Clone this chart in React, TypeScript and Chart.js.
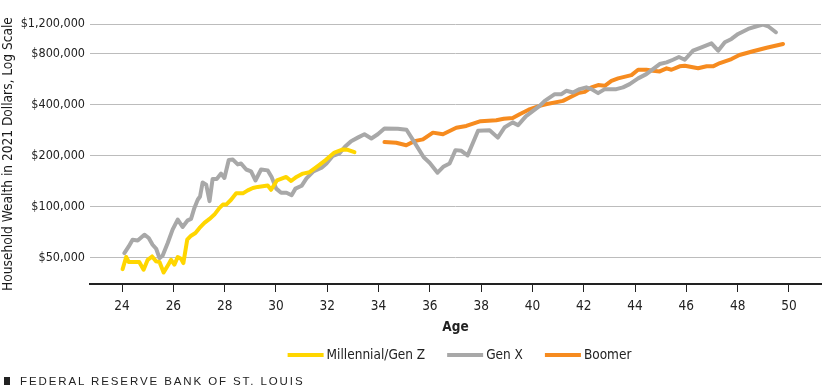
import React, { useEffect, useRef } from 'react';
import { Chart, registerables } from 'chart.js';

Chart.register(...registerables);

const FONT = "'Liberation Sans Narrow', 'Arial Narrow', 'DejaVu Sans Condensed', 'Liberation Sans', Arial, sans-serif";

// Age (years) tick labels and wealth (2021 dollars, log scale) tick labels
const ageTicks = [24, 26, 28, 30, 32, 34, 36, 38, 40, 42, 44, 46, 48, 50];
const wealthTicks = [50000, 100000, 200000, 400000, 800000, 1200000];

const seriesNames = ['Millennial/Gen Z', 'Gen X', 'Boomer'];
const seriesColors = ['#FFD600', '#A8A8A8', '#F68B1F'];

// Millennial/Gen Z
const millennialAges = [24.02, 24.16, 24.26, 24.67, 24.84, 25.0, 25.17, 25.33, 25.46, 25.62, 25.82, 25.91, 26.04, 26.17, 26.3, 26.39, 26.54, 26.69, 26.86, 27.02, 27.21, 27.41, 27.6, 27.8, 27.93, 28.06, 28.25, 28.45, 28.71, 28.9, 29.1, 29.29, 29.68, 29.81, 30.04, 30.4, 30.59, 30.8, 31.05, 31.31, 31.63, 31.96, 32.28, 32.61, 32.8, 33.06];
const millennialWealth = [42800, 50500, 47200, 47200, 42500, 48600, 50900, 47600, 47200, 40900, 46000, 48600, 45500, 50500, 49300, 46500, 63900, 67500, 70000, 75000, 80300, 84800, 89900, 98500, 103000, 103000, 110000, 120000, 120000, 125000, 129000, 131000, 133500, 126000, 143000, 150000, 142000, 150000, 157000, 160000, 174000, 190000, 209000, 218000, 217000, 210000];

// Gen X
const genXAges = [24.09, 24.26, 24.41, 24.61, 24.87, 25.04, 25.19, 25.33, 25.46, 25.58, 25.78, 25.97, 26.17, 26.36, 26.56, 26.69, 26.82, 26.95, 27.04, 27.14, 27.28, 27.41, 27.53, 27.69, 27.86, 27.99, 28.16, 28.32, 28.51, 28.64, 28.84, 29.03, 29.2, 29.42, 29.68, 29.83, 30.01, 30.2, 30.41, 30.61, 30.76, 31.0, 31.19, 31.46, 31.78, 31.97, 32.22, 32.48, 32.69, 32.93, 33.19, 33.45, 33.72, 33.97, 34.23, 34.75, 35.09, 35.4, 35.76, 35.99, 36.3, 36.54, 36.77, 37.0, 37.23, 37.47, 37.88, 38.33, 38.65, 38.92, 39.23, 39.44, 39.74, 40.01, 40.28, 40.48, 40.87, 41.13, 41.32, 41.58, 41.84, 42.1, 42.3, 42.56, 42.82, 43.27, 43.53, 43.79, 44.12, 44.44, 44.7, 44.96, 45.23, 45.48, 45.71, 45.94, 46.26, 46.59, 46.98, 47.24, 47.5, 47.76, 48.02, 48.41, 48.74, 48.99, 49.19, 49.49];
const genXWealth = [53300, 58300, 63900, 63300, 68400, 65400, 59700, 56500, 49800, 51400, 61100, 73300, 84000, 76000, 83200, 84800, 98500, 110000, 115000, 139000, 135000, 108000, 146000, 146000, 157000, 148000, 189000, 190000, 178000, 180000, 166000, 162000, 143000, 166000, 164000, 150000, 128000, 121000, 121000, 117000, 128000, 133000, 147000, 162000, 170000, 180000, 200000, 207000, 226000, 244000, 256000, 268000, 253000, 268000, 290000, 289000, 285000, 240000, 196000, 182000, 159000, 173000, 180000, 216000, 214000, 201000, 281000, 283000, 256000, 295000, 315000, 303000, 342000, 367000, 394000, 422000, 462000, 462000, 484000, 473000, 495000, 507000, 495000, 469000, 495000, 495000, 507000, 530000, 573000, 607000, 650000, 696000, 712000, 738000, 766000, 738000, 835000, 874000, 923000, 835000, 936000, 979000, 1048000, 1122000, 1164000, 1190000, 1164000, 1073000];

// Boomer
const boomerAges = [34.23, 34.69, 35.08, 35.4, 35.73, 36.12, 36.51, 37.03, 37.42, 37.98, 38.59, 38.88, 39.23, 39.5, 39.85, 40.28, 40.52, 41.19, 41.45, 41.78, 42.04, 42.3, 42.56, 42.82, 43.08, 43.34, 43.66, 43.86, 44.12, 44.44, 44.7, 44.96, 45.23, 45.42, 45.74, 45.94, 46.46, 46.79, 47.04, 47.31, 47.76, 48.07, 48.6, 49.13, 49.77];
const boomerWealth = [241000, 239000, 231000, 244000, 250000, 274000, 268000, 293000, 300000, 320000, 324000, 331000, 334000, 352000, 374000, 394000, 403000, 422000, 442000, 469000, 477000, 507000, 523000, 518000, 554000, 573000, 589000, 599000, 644000, 644000, 635000, 630000, 657000, 644000, 675000, 680000, 657000, 675000, 675000, 706000, 745000, 787000, 828000, 869000, 915000];

const toPoints = (xs: number[], ys: number[]) => xs.map((x, i) => ({ x, y: ys[i] }));

const legendPlugin = {
  id: 'customLegend',
  afterDraw(chart: any) {
    const ctx = chart.ctx;
    const ds = chart.data.datasets;
    ctx.save();
    ctx.font = `13.5px ${FONT}`;
    const sw = 36;
    const gapText = 3;
    const gapItem = 22;
    const widths = ds.map((d: any) => sw + gapText + ctx.measureText(d.label).width);
    const total = widths.reduce((a: number, b: number) => a + b, 0) + gapItem * (ds.length - 1);
    const ca = chart.chartArea;
    let x = (ca.left + ca.right) / 2 + 4 - total / 2;
    const y = 355;
    ds.forEach((d: any, i: number) => {
      ctx.fillStyle = d.borderColor;
      ctx.fillRect(x, y - 2, sw, 4);
      ctx.fillStyle = '#222';
      ctx.textBaseline = 'middle';
      ctx.textAlign = 'left';
      ctx.fillText(d.label, x + sw + gapText, y);
      x += widths[i] + gapItem;
    });
    ctx.restore();
  },
};

export default function App() {
  const ref = useRef<HTMLCanvasElement>(null);
  useEffect(() => {
    if (!ref.current) return;
    Chart.defaults.font.family = FONT;
    const mk = (i: number, data: any[]) => ({
      label: seriesNames[i],
      data,
      borderColor: seriesColors[i],
      backgroundColor: seriesColors[i],
      borderWidth: 4,
      pointRadius: 0,
      tension: 0,
      borderJoinStyle: 'round' as const,
      borderCapStyle: 'round' as const,
    });
    const chart = new Chart(ref.current, {
      type: 'line',
      data: {
        datasets: [
          mk(0, toPoints(millennialAges, millennialWealth)),
          mk(1, toPoints(genXAges, genXWealth)),
          mk(2, toPoints(boomerAges, boomerWealth)),
        ],
      },
      options: {
        responsive: false,
        animation: false,
        layout: { padding: { left: 0, right: 4, top: 24, bottom: 56 } },
        plugins: { legend: { display: false }, tooltip: { enabled: false } },
        scales: {
          x: {
            type: 'linear',
            min: 22.75,
            max: 51.25,
            afterBuildTicks: (s: any) => { s.ticks = ageTicks.map((v) => ({ value: v })); },
            afterFit: (s: any) => { s.height = 52; },
            grid: { display: true, drawOnChartArea: false, drawTicks: true, tickLength: 8, color: '#222', tickColor: '#222', tickWidth: 1 },
            border: { display: true, color: '#222', width: 2 },
            ticks: { padding: 6, color: '#222', font: { size: 13.5 }, maxRotation: 0, callback: (v: any) => String(v) },
            title: { display: true, text: 'Age', color: '#222', font: { size: 13.5, weight: 'bold' }, padding: { top: 0, bottom: 0.8 } },
          },
          y: {
            type: 'logarithmic',
            min: 35000,
            max: 1200000,
            afterBuildTicks: (s: any) => { s.ticks = wealthTicks.map((v) => ({ value: v })); },
            afterFit: (s: any) => { s.width = 90; },
            grid: { color: '#bcbcbc', lineWidth: 1, drawTicks: false, tickLength: 0 },
            border: { display: false },
            ticks: { padding: 5, color: '#222', font: { size: 12.5 }, callback: (v: any) => '$' + Number(v).toLocaleString('en-US') },
            title: { display: true, text: 'Household Wealth in 2021 Dollars, Log Scale', color: '#1a1a1a', font: { size: 13.6 }, padding: { top: 0.3, bottom: 0 } },
          },
        },
      },
      plugins: [legendPlugin],
    });
    return () => chart.destroy();
  }, []);

  return (
    <div style={{ position: 'fixed', left: 0, top: 0, width: 825, height: 392, background: '#fff' }}>
      <canvas ref={ref} width={825} height={392} style={{ width: 825, height: 392, display: 'block' }} />
      <div style={{ position: 'absolute', left: 4, top: 375, fontFamily: "'Liberation Sans', Arial, sans-serif", fontSize: 11.5, letterSpacing: 1.9, color: '#222', whiteSpace: 'nowrap', display: 'flex', alignItems: 'center' }}>
        <span style={{ display: 'inline-block', width: 6, height: 8, background: '#222', marginRight: 10 }} />
        <span>FEDERAL RESERVE BANK OF ST. LOUIS</span>
      </div>
    </div>
  );
}
